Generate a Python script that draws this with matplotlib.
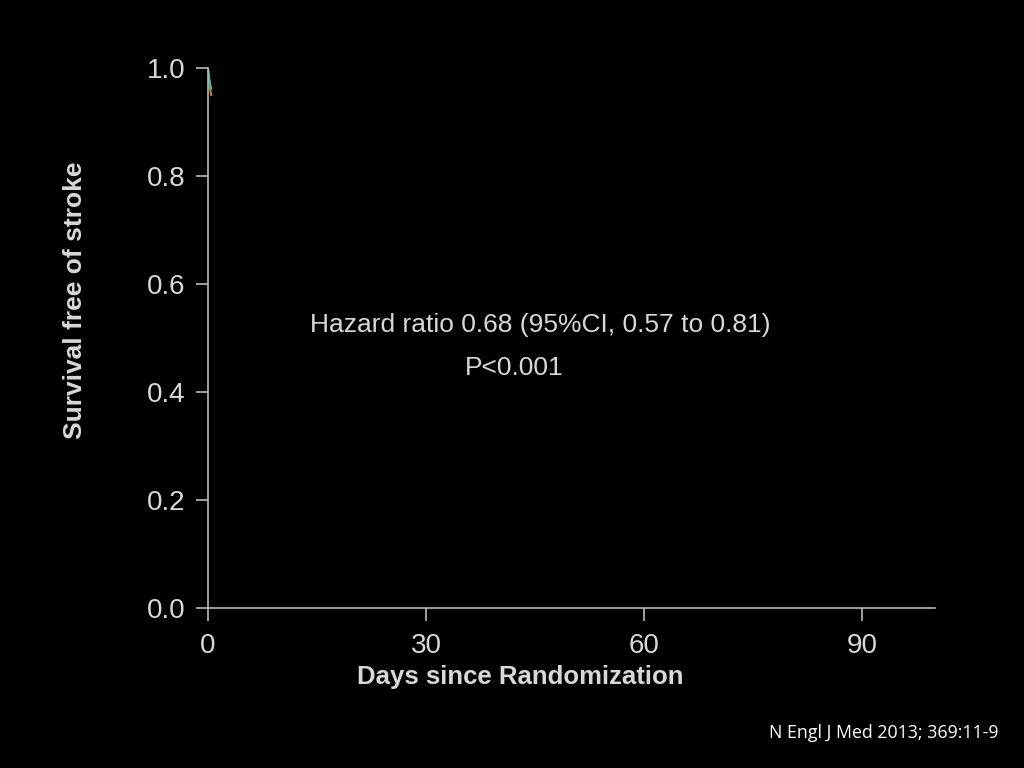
import matplotlib
matplotlib.use('Agg')
import matplotlib.pyplot as plt

plt.rcParams['font.family'] = ['Liberation Sans', 'DejaVu Sans']

# Kaplan-Meier curves (only the very start is visible)
days_a = [0, 0.05, 0.15, 0.25, 0.35, 0.45]
surv_a = [1.0, 0.995, 0.985, 0.975, 0.968, 0.962]
days_b = [0, 0.05, 0.15, 0.25, 0.35, 0.45]
surv_b = [1.0, 0.993, 0.98, 0.968, 0.958, 0.95]

xticks = [0, 30, 60, 90]
yticks = [0.0, 0.2, 0.4, 0.6, 0.8, 1.0]

fg = '#d8d8d8'

fig = plt.figure(figsize=(10.24, 7.68), dpi=100, facecolor='black')
ax = fig.add_axes([0.203, 0.2083, 0.71, 0.7032], facecolor='black')

ax.plot(days_b, surv_b, color='#c8862a', lw=1.5)
ax.plot(days_a, surv_a, color='#3fb8b0', lw=1.5)

ax.set_xlim(0, 100)
ax.set_ylim(0, 1.0)
ax.set_xticks(xticks)
ax.set_yticks(yticks)
ax.set_yticklabels(['%.1f' % v for v in yticks])

for s in ['top', 'right']:
    ax.spines[s].set_visible(False)
for s in ['left', 'bottom']:
    ax.spines[s].set_color('#bbbbbb')
    ax.spines[s].set_linewidth(1.2)
ax.tick_params(colors='#bbbbbb', labelcolor=fg, labelsize=20, length=9, width=1.2, direction='out')
ax.tick_params(axis='x', pad=9)
ax.tick_params(axis='y', pad=7)

ax.set_xlabel('Days since Randomization', color=fg, fontsize=18.5, fontweight='bold', va='center')
ax.set_ylabel('Survival free of stroke', color=fg, fontsize=19, fontweight='bold', va='center')
ax.xaxis.set_label_coords(0.43, -0.128)
ax.yaxis.set_label_coords(-0.183, 0.57)

ax.text(0.457, 0.524, 'Hazard ratio 0.68 (95%CI, 0.57 to 0.81)', transform=ax.transAxes,
        color=fg, fontsize=19, ha='center', va='center')
ax.text(0.421, 0.444, 'P<0.001', transform=ax.transAxes,
        color=fg, fontsize=19, ha='center', va='center')

fig.text(0.863, 0.0455, 'N Engl J Med 2013; 369:11-9', color='white', fontsize=12.8,
         ha='center', va='center', family=['Open Sans', 'DejaVu Sans'])

fig.savefig('out.png', dpi=100, facecolor='black')
